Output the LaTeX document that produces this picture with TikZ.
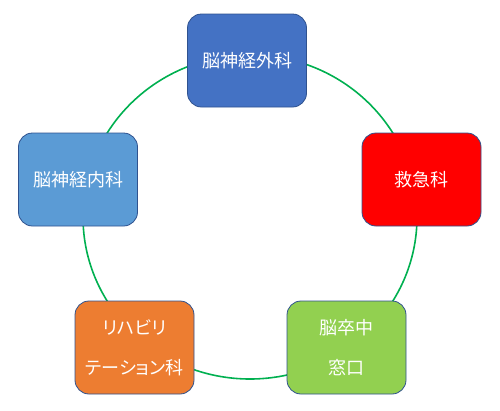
\documentclass[tikz,border=0pt]{standalone}
\usepackage{fontspec}
\newfontfamily\jpfont{Noto Sans CJK JP}[RawFeature=+palt]
\definecolor{ringgreen}{HTML}{00B050}
\definecolor{boxedge}{HTML}{2F528F}
\definecolor{darkblue}{HTML}{4472C4}
\definecolor{lightblue}{HTML}{5B9BD5}
\definecolor{orangefill}{HTML}{ED7D31}
\definecolor{limefill}{HTML}{92D050}
\begin{document}
\begin{tikzpicture}[x=1pt, y=-1pt,
    dept/.style={draw=boxedge, line width=0.8pt, rounded corners=14pt,
        minimum width=119pt, minimum height=93pt, inner sep=0pt, align=center,
        text=white, font=\jpfont\fontsize{18}{40}\selectfont}]
    \useasboundingbox (0,0) rectangle (500,410);
    % Ring behind the departments
    \coordinate (ring) at (250,217);
    \draw[ringgreen, line width=1.6pt] (ring) ellipse [x radius=167, y radius=162];
    % Departments
    \node[dept, fill=darkblue] (neurosurg) at (247,60.5) {脳神経外科};
    \node[dept, fill=red] (emergency) at (421.5,179.5) {救急科};
    \node[dept, fill=lightblue] (neurology) at (78,179.5) {脳神経内科};
    \node[dept, fill=orangefill] (rehab) at (134.5,347.5) {リハビリ\\テーション科};
    \node[dept, fill=limefill] (strokewin) at (346.5,347.5) {脳卒中\\窓口};
\end{tikzpicture}
\end{document}
